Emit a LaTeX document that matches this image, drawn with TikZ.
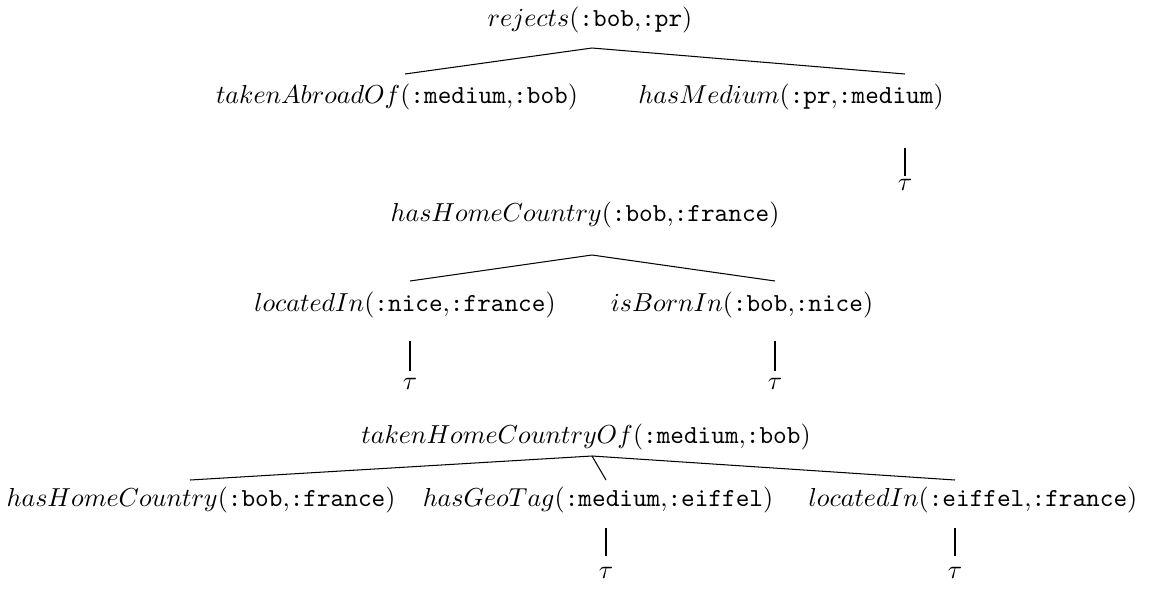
\documentclass[tikz,border=0pt]{standalone}
\newcommand{\ar}[1]{\texttt{#1}}
\begin{document}
\begin{tikzpicture}[x=0.3846pt,y=-0.3846pt,
  lbl/.style={inner sep=0pt,outer sep=0pt,anchor=center},
  edge/.style={line width=0.4pt}]
\useasboundingbox (0,0) rectangle (1152,588);
% first tree
\node[lbl] (rej) at (590,20) {$rejects(\ar{:bob}{,}\ar{:pr})$};
\node[lbl] (tab) at (397,97) {$takenAbroadOf(\ar{:medium}{,}\ar{:bob})$};
\node[lbl] (hm)  at (791,97) {$hasMedium(\ar{:pr}{,}\ar{:medium})$};
\node[lbl] (t1)  at (905,185) {$\tau$};
\coordinate (rejA) at (592,48);
\coordinate (tabA) at (405,74);
\coordinate (hmA) at (905,74);
\coordinate (hmB) at (905,148);
\coordinate (t1A) at (905,176);
\draw[edge] (tabA) -- (rejA) -- (hmA);
\draw[edge] (hmB) -- (t1A);
% second tree
\node[lbl] (hhc) at (585,215) {$hasHomeCountry(\ar{:bob}{,}\ar{:france})$};
\node[lbl] (lin) at (405,305) {$locatedIn(\ar{:nice}{,}\ar{:france})$};
\node[lbl] (ibi) at (742,305) {$isBornIn(\ar{:bob}{,}\ar{:nice})$};
\node[lbl] (t2) at (410,384) {$\tau$};
\node[lbl] (t3) at (775,384) {$\tau$};
\coordinate (hhcA) at (592,255);
\coordinate (linA) at (410,281);
\coordinate (ibiA) at (775,281);
\coordinate (linB) at (410,341);
\coordinate (ibiB) at (775,341);
\coordinate (t2A) at (410,371);
\coordinate (t3A) at (775,371);
\draw[edge] (linA) -- (hhcA) -- (ibiA);
\draw[edge] (linB) -- (t2A);
\draw[edge] (ibiB) -- (t3A);
% third tree
\node[lbl] (thc) at (586,437) {$takenHomeCountryOf(\ar{:medium}{,}\ar{:bob})$};
\node[lbl] (hhb) at (201,500) {$hasHomeCountry(\ar{:bob}{,}\ar{:france})$};
\node[lbl] (hgt) at (598,500) {$hasGeoTag(\ar{:medium}{,}\ar{:eiffel})$};
\node[lbl] (lie) at (973,500) {$locatedIn(\ar{:eiffel}{,}\ar{:france})$};
\node[lbl] (t4) at (606,573) {$\tau$};
\node[lbl] (t5) at (955,573) {$\tau$};
\coordinate (thcA) at (592,456);
\coordinate (hhbA) at (190,480);
\coordinate (hgtA) at (606,480);
\coordinate (lieA) at (955,480);
\coordinate (hgtB) at (606,528);
\coordinate (lieB) at (955,528);
\coordinate (t4A) at (606,556);
\coordinate (t5A) at (955,556);
\draw[edge] (hhbA) -- (thcA) -- (lieA);
\draw[edge] (thcA) -- (hgtA);
\draw[edge] (hgtB) -- (t4A);
\draw[edge] (lieB) -- (t5A);
\end{tikzpicture}
\end{document}
